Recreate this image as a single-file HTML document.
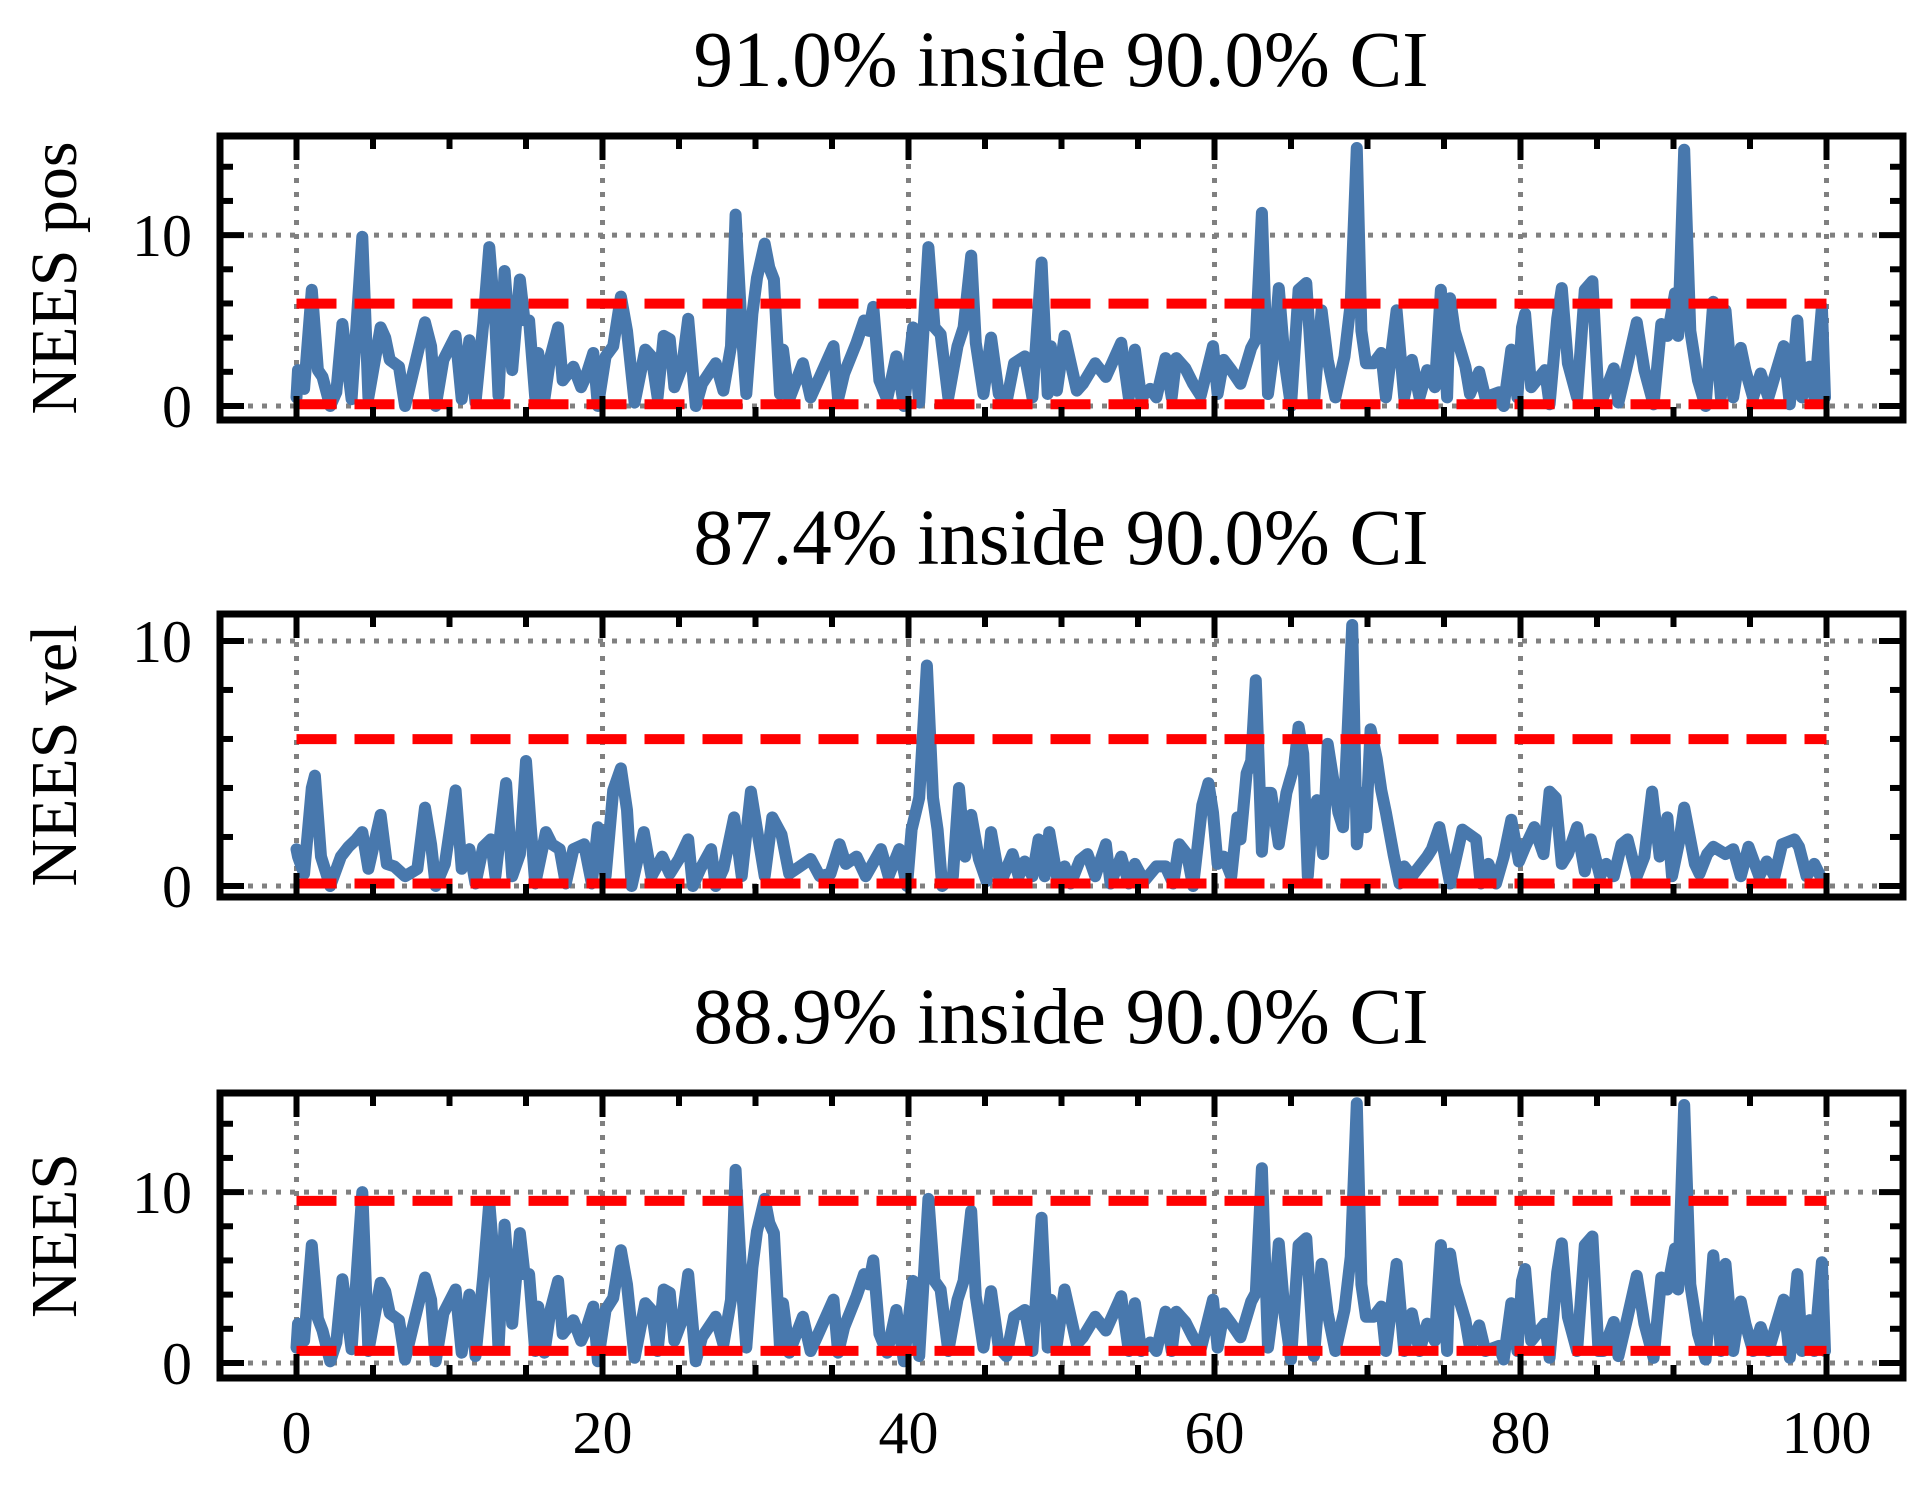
<!DOCTYPE html>
<html><head><meta charset="utf-8"><style>
html,body{margin:0;padding:0;background:#fff}
svg{display:block}
text{font-family:"Liberation Serif","Times New Roman",serif;fill:#000}
</style></head><body>
<svg id="chart" width="1931" height="1498" viewBox="0 0 1931 1498" xmlns="http://www.w3.org/2000/svg"></svg>
<script>
// ---- data ----
const posX = [0,0.1,0.5,1.0,1.4,1.7,2.2,2.6,3.0,3.6,4.3,4.7,5.5,5.8,6.1,6.7,7.1,7.6,8.4,8.8,9.1,9.6,10.4,10.8,11.3,11.7,12.2,12.6,13.0,13.2,13.6,14.1,14.6,14.9,15.2,15.6,15.8,16.2,16.6,17.1,17.4,18.1,18.6,18.9,19.4,19.7,20.2,20.7,21.2,21.6,22.1,22.8,23.2,23.6,24.0,24.4,24.7,25.2,25.6,26.1,26.5,27.1,27.4,27.9,28.4,28.7,29.1,29.4,29.8,30.1,30.6,30.9,31.2,31.6,31.8,32.2,33.1,33.6,34.2,35.1,35.4,35.8,36.6,37.1,37.4,37.7,38.1,38.6,39.2,39.7,40.3,40.7,41.3,41.7,42.1,42.6,43.2,43.6,44.1,44.4,44.9,45.4,45.9,46.4,46.9,47.6,48.1,48.7,49.1,49.3,49.7,50.2,51.0,51.4,52.2,52.9,53.9,54.4,54.8,55.2,55.8,56.2,56.8,57.2,57.5,58.1,58.6,59.1,59.9,60.2,60.6,61.1,61.7,62.4,62.7,63.1,63.5,63.9,64.2,64.6,65.0,65.5,66.0,66.5,67.0,67.4,67.9,68.5,68.9,69.3,69.6,69.9,70.4,70.9,71.2,71.9,72.4,72.9,73.4,73.9,74.4,74.8,75.2,75.4,75.7,76.4,76.7,77.3,77.7,78.6,78.9,79.4,79.8,80.1,80.3,80.7,81.6,81.9,82.4,82.7,83.1,83.7,84.2,84.7,85.1,85.4,86.1,86.4,87.0,87.6,88.1,88.7,89.2,89.6,90.1,90.3,90.7,91.1,91.6,92.1,92.6,93.1,93.4,93.9,94.4,94.7,95.2,95.7,96.2,96.6,97.2,97.6,98.1,98.4,98.9,99.2,99.7,99.9];
const posY = [0.5,2.1,1.0,6.8,2.1,1.7,0,0.8,4.8,0.4,9.9,0.5,4.6,4.0,2.7,2.3,0,1.9,4.9,3.5,0,2.7,4.1,0.4,3.85,0.2,4.8,9.3,4.8,0.6,7.9,2.1,7.4,5.0,5.0,0.5,3.1,0.4,2.9,4.6,1.5,2.3,1.1,1.7,3.1,0,2.9,3.5,6.4,4.4,0.2,3.3,2.9,0.5,4.1,3.9,1.1,2.3,5.1,0,1.3,2.1,2.5,0.9,3.5,11.2,4.4,0.7,5.4,7.5,9.5,8.1,7.4,0.7,3.3,0.4,2.5,0.5,1.7,3.5,0.4,1.9,3.7,5.0,4.4,5.8,1.5,0.4,2.9,0,4.6,0.2,9.3,4.6,4.2,0.5,3.5,4.6,8.8,3.7,0.7,4.0,0.7,0.2,2.5,2.9,0.5,8.4,0.7,3.5,0.9,4.1,0.9,1.3,2.5,1.7,3.7,0.5,3.3,0.5,1.0,0.5,2.8,0.5,2.8,2.2,1.3,0.6,3.5,0.7,2.7,2.1,1.3,3.4,3.9,11.3,0.7,3.5,6.9,2.5,0,6.8,7.2,0.2,5.6,2.7,0.5,2.9,6.0,15.1,4.4,2.5,2.5,3.1,0.5,5.6,0.5,2.7,0.5,2.1,1.1,6.8,0.5,6.3,4.4,2.3,0.7,2.0,0.5,0.8,0,3.3,0.5,4.6,5.4,1.1,2.1,0.1,5.1,6.9,2.5,0.5,6.8,7.3,0.5,0.5,2.2,0.2,2.5,4.9,2.1,0.1,4.8,4.1,6.6,4.1,15.0,4.4,1.5,0,6.1,0.5,5.6,0.5,3.4,2.1,0.5,1.9,0.5,1.7,3.5,0.1,5.0,0.5,2.3,0.5,5.8,0.5];
const velX = [0,0.1,0.5,1.0,1.2,1.6,2.2,2.9,3.4,3.9,4.3,4.7,5.5,5.9,6.4,7.1,7.9,8.4,8.8,9.1,9.7,10.4,10.8,11.3,11.7,12.2,12.7,13.0,13.7,14.1,14.6,15.0,15.3,15.6,16.3,16.7,17.2,17.6,18.1,18.8,19.3,19.7,20.2,20.7,21.2,21.6,21.9,22.7,23.2,23.9,24.4,25.0,25.6,25.9,26.4,27.1,27.4,27.9,28.6,29.1,29.7,30.1,30.6,31.1,31.7,32.2,32.9,33.6,34.2,34.9,35.5,35.9,36.6,37.2,38.2,38.7,39.4,39.9,40.2,40.7,41.2,41.6,41.9,42.2,42.9,43.3,43.7,44.1,44.6,45.1,45.4,45.9,46.2,46.8,47.2,47.6,48.1,48.5,48.9,49.2,49.7,50.2,50.6,51.2,51.7,52.2,52.9,53.2,53.9,54.4,54.8,55.4,56.2,56.8,57.3,57.7,58.2,58.6,59.2,59.6,59.9,60.2,60.6,61.1,61.5,61.7,62.1,62.4,62.7,63.1,63.4,63.7,64.2,64.7,65.2,65.5,65.8,66.1,66.4,66.7,67.1,67.4,68.1,68.4,68.7,69.0,69.3,69.6,69.9,70.2,70.6,70.9,71.2,71.7,72.1,72.4,72.9,73.4,73.9,74.2,74.7,75.4,75.7,76.2,77.1,77.4,77.9,78.4,78.9,79.4,79.9,80.3,80.9,81.5,81.9,82.3,82.7,83.1,83.7,84.2,84.6,85.2,85.6,86.1,86.6,87.0,87.6,88.1,88.6,89.1,89.6,89.9,90.4,90.7,91.4,91.7,92.2,92.6,93.4,93.9,94.4,94.9,95.6,96.1,96.6,97.1,97.9,98.2,98.7,99.2,99.6,100];
const velY = [1.5,1.2,0.5,4.0,4.5,1.2,0,1.2,1.6,1.9,2.2,0.7,2.9,0.9,0.8,0.4,0.7,3.2,1.7,0,0.9,3.9,0.7,1.5,0.1,1.6,1.9,0.4,4.2,0.4,1.3,5.1,2.5,0.1,2.2,1.7,1.5,0.1,1.5,1.7,0.1,2.4,0.4,3.9,4.8,3.1,0,2.2,0.4,1.2,0.5,1.1,1.9,0,0.7,1.5,0,0.7,2.8,0.4,3.85,2.3,0.4,2.8,2.1,0.5,0.8,1.1,0.4,0.5,1.7,0.9,1.2,0.4,1.5,0.4,1.5,0,2.3,3.6,9.0,3.6,2.3,0,0.4,4.0,1.2,2.9,1.1,0.2,2.2,0.4,0.4,1.3,0.4,1.0,0.4,1.9,0.4,2.2,0.4,0.8,0.1,1.05,1.3,0.4,1.7,0.1,1.2,0.1,0.9,0.2,0.8,0.8,0.1,1.7,1.3,0,3.3,4.2,3.0,0.9,1.2,0.4,2.8,1.9,4.6,5.1,8.4,1.4,3.8,3.8,1.7,3.8,4.9,6.5,5.4,0.4,3.0,3.5,1.3,5.8,3.0,2.4,6.3,10.65,1.7,3.8,2.4,6.4,5.2,3.9,3.0,1.3,0.1,0.8,0.4,0.8,1.2,1.5,2.4,0.1,0.9,2.3,1.9,0.1,0.9,0.1,1.2,2.7,1.0,1.6,2.4,1.3,3.85,3.6,0.9,1.3,2.4,0.6,1.9,0.4,0.9,0.4,1.7,1.9,0.4,1.2,3.85,1.2,2.8,0.4,1.9,3.2,0.9,0.5,1.3,1.6,1.3,1.5,0.4,1.6,0.4,1.0,0.4,1.7,1.9,1.6,0.4,0.9,0.4];
const totX = posX;
const totY = [0.9,2.3,1.3,6.9,2.6,1.9,0.1,1.2,4.9,0.8,10.0,0.7,4.7,4.2,2.9,2.5,0.2,2.1,5.0,3.7,0.1,2.9,4.3,0.6,4.0,0.4,5.0,9.4,5.0,0.8,8.1,2.3,7.6,5.2,5.2,0.7,3.3,0.6,3.1,4.8,1.7,2.5,1.3,1.9,3.3,0.1,3.1,3.8,6.6,4.6,0.3,3.5,3.1,0.7,4.3,4.1,1.3,2.5,5.2,0.1,1.5,2.3,2.7,1.1,3.7,11.3,4.6,0.9,5.6,7.7,9.6,8.2,7.6,0.9,3.5,0.6,2.7,0.7,1.9,3.7,0.6,2.1,3.9,5.2,4.6,6.0,1.7,0.6,3.1,0.1,4.8,0.4,9.6,4.8,4.3,0.7,3.7,4.8,8.9,3.9,0.9,4.2,0.9,0.4,2.7,3.1,0.7,8.5,0.9,3.7,1.1,4.3,1.1,1.5,2.7,1.9,3.9,0.7,3.5,0.7,1.2,0.7,3.0,0.7,3.0,2.4,1.5,0.8,3.7,0.9,2.9,2.3,1.5,3.6,4.1,11.4,0.9,3.7,7.0,2.7,0.2,6.9,7.3,0.4,5.8,2.9,0.7,3.1,6.2,15.2,4.6,2.7,2.7,3.3,0.7,5.8,0.7,2.9,0.7,2.3,1.3,6.9,0.7,6.4,4.6,2.5,0.9,2.2,0.7,1.0,0.2,3.5,0.7,4.8,5.5,1.3,2.3,0.3,5.3,7.0,2.7,0.7,6.9,7.4,0.7,0.7,2.4,0.4,2.7,5.1,2.3,0.3,5.0,4.3,6.7,4.3,15.1,4.6,1.7,0.2,6.3,0.7,5.8,0.7,3.6,2.3,0.7,2.1,0.7,1.9,3.7,0.3,5.2,0.7,2.5,0.7,5.9,0.7];
const xTicks = [0,20,40,60,80,100];
const xTickLabels = ["0","20","40","60","80","100"];
const yTicks = [0,10];
const yTickLabels = ["0","10"];
const titles = ["91.0% inside 90.0% CI","87.4% inside 90.0% CI","88.9% inside 90.0% CI"];
const yLabels = ["NEES pos","NEES vel","NEES"];
const ciLow = [0.103,0.103,0.711];
const ciHigh = [5.991,5.991,9.488];

// ---- layout ----
const NS = "http://www.w3.org/2000/svg";
const svg = document.getElementById('chart');
const L = 220, R = 1903, XMIN = -5, XMAX = 105;
const panels = [
  {top:136, bottom:420, ymin:-0.82, ymax:15.8, xs:posX, ys:posY},
  {top:614, bottom:897, ymin:-0.45, ymax:11.1, xs:velX, ys:velY},
  {top:1093, bottom:1378, ymin:-0.88, ymax:15.8, xs:totX, ys:totY}
];
const sx = v => L + (v - XMIN) / (XMAX - XMIN) * (R - L);
function mk(tag, attrs, parent){
  const e = document.createElementNS(NS, tag);
  for (const k in attrs) e.setAttribute(k, attrs[k]);
  (parent || svg).appendChild(e);
  return e;
}
panels.forEach((p, i) => {
  const sy = v => p.bottom - (v - p.ymin) / (p.ymax - p.ymin) * (p.bottom - p.top);
  const g = mk('g', {});
  
  
  xTicks.forEach(t => {
    const gl = mk('line', {x1:sx(t), x2:sx(t), y1:p.top, y2:p.bottom, stroke:'#808080', 'stroke-width':5, 'stroke-dasharray':'5 9'}, g);
    
    
  });
  yTicks.forEach(t => {
    const gl = mk('line', {x1:L, x2:R, y1:sy(t), y2:sy(t), stroke:'#808080', 'stroke-width':5, 'stroke-dasharray':'5 9'}, g);
    
    
  });
  let d = '';
  p.xs.forEach((x, j) => { d += (j ? 'L' : 'M') + sx(x).toFixed(1) + ',' + sy(p.ys[j]).toFixed(1); });
  const line = mk('path', {d:d, fill:'none', stroke:'#4878ad', 'stroke-width':12, 'stroke-linejoin':'round', 'stroke-linecap':'round'}, g);
  
  
  [ciLow[i], ciHigh[i]].forEach((v, k) => {
    const c = mk('line', {x1:sx(0), x2:sx(100), y1:sy(v), y2:sy(v), stroke:'#ff0000', 'stroke-width':10, 'stroke-dasharray':'40 18'}, g);
    
    
  });
  for (let t = 0; t <= 100; t += 5) {
    const len = (t % 20 === 0) ? 24 : 13;
    mk('line', {x1:sx(t), x2:sx(t), y1:p.bottom, y2:p.bottom - len, stroke:'#000', 'stroke-width':6}, g);
    mk('line', {x1:sx(t), x2:sx(t), y1:p.top, y2:p.top + len, stroke:'#000', 'stroke-width':6}, g);
  }
  for (let t = 0; t <= p.ymax; t += 2) {
    const len = (t % 10 === 0) ? 24 : 13;
    mk('line', {x1:L, x2:L + len, y1:sy(t), y2:sy(t), stroke:'#000', 'stroke-width':6}, g);
    mk('line', {x1:R, x2:R - len, y1:sy(t), y2:sy(t), stroke:'#000', 'stroke-width':6}, g);
  }
  const fr = mk('rect', {x:L, y:p.top, width:R - L, height:p.bottom - p.top, fill:'none', stroke:'#000', 'stroke-width':7}, g);
  
  
  yTicks.forEach((t, k) => {
    const tl = mk('text', {x:192, y:sy(t) + 21, 'text-anchor':'end', 'font-size':60}, g);
    tl.textContent = yTickLabels[k];
    
    
  });
  if (i === panels.length - 1) {
    xTicks.forEach((t, k) => {
      const tl = mk('text', {x:sx(t), y:1453, 'text-anchor':'middle', 'font-size':60}, g);
      tl.textContent = xTickLabels[k];
      
      
    });
  }
  const ti = mk('text', {x:1061, y:p.top - 50, 'text-anchor':'middle', 'font-size':79}, g);
  ti.textContent = titles[i];
  
  
  const cy = (p.top + p.bottom) / 2;
  const yl = mk('text', {x:76, y:cy, 'text-anchor':'middle', 'font-size':66, transform:'rotate(-90 76 ' + cy + ')'}, g);
  yl.textContent = yLabels[i];
  
  
});
</script>
</body></html>
